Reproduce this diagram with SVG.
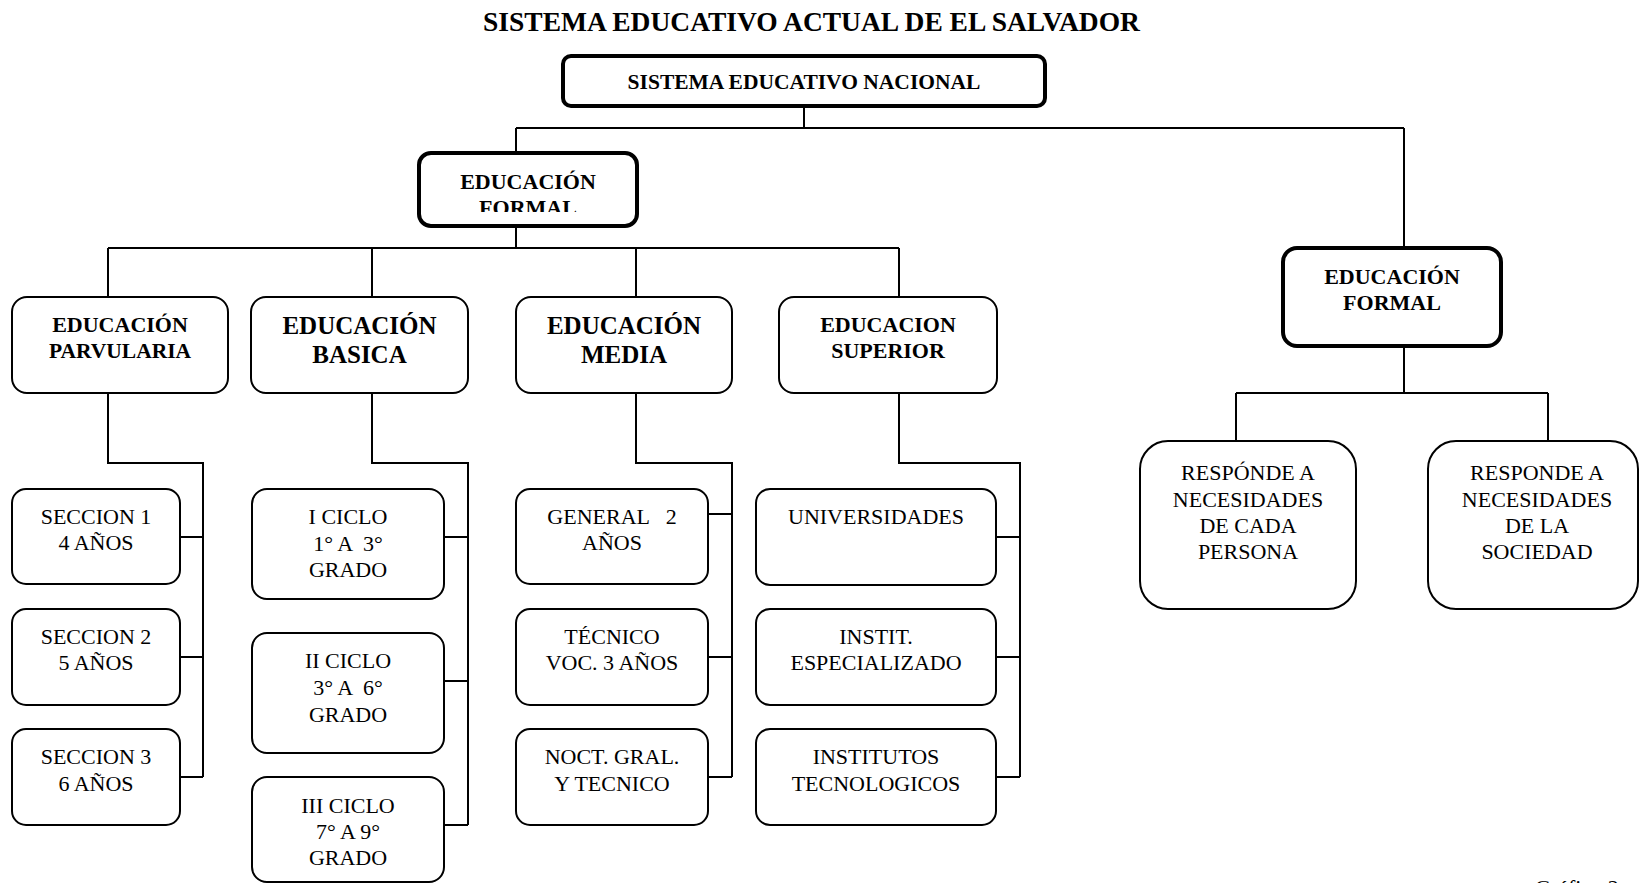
<svg xmlns="http://www.w3.org/2000/svg" width="1639" height="883" viewBox="0 0 1639 883">
<style>
text{font-family:"Liberation Serif","Times New Roman",serif;fill:#000;text-anchor:middle;white-space:pre}
.b{font-weight:bold}
.r{font-size:22px}
.thick{fill:#fff;stroke:#000;stroke-width:4}
.thin{fill:#fff;stroke:#000;stroke-width:2}
#connectors path{fill:none;stroke:#000;stroke-width:2}
</style>
<defs>
<clipPath id="clipEF1"><rect x="419" y="153" width="218" height="59"/></clipPath>
</defs>
<rect width="1639" height="883" fill="#fff"/>
<text x="811.5" y="31" class="b" style="font-size:27.5px">SISTEMA EDUCATIVO ACTUAL DE EL SALVADOR</text>

<g id="connectors">
<path d="M804 106V128M516 128H1404M516 128V153M1404 128V248"/>
<path d="M516 226V248M108 248H899M108 248V297M372 248V297M636 248V297M899 248V297"/>
<path d="M108 393V463H203V777M180 537H203M180 657H203M180 777H203"/>
<path d="M372 393V463H468V825M444 537H468M444 681H468M444 825H468"/>
<path d="M636 393V463H732V777M708 514H732M708 657H732M708 777H732"/>
<path d="M899 393V463H1020V777M996 537H1020M996 657H1020M996 777H1020"/>
<path d="M1404 346V393M1236 393H1548M1236 393V441M1548 393V441"/>
</g>

<g id="sen">
<rect class="thick" x="563" y="56" width="482" height="50" rx="8"/>
<text x="804" y="89" class="b" style="font-size:21.5px">SISTEMA EDUCATIVO NACIONAL</text>
</g>
<g id="ef1">
<rect class="thick" x="419" y="153" width="218" height="73" rx="12"/>
<text x="528" y="189" class="b" style="font-size:22px">EDUCACIÓN</text>
<text x="528" y="215" class="b" style="font-size:22px" clip-path="url(#clipEF1)">FORMAL</text>
</g>
<g id="ef2">
<rect class="thick" x="1283" y="248" width="218" height="98" rx="14"/>
<text x="1392" y="284" class="b" style="font-size:22px">EDUCACIÓN</text>
<text x="1392" y="310" class="b" style="font-size:22px">FORMAL</text>
</g>

<g id="parvularia">
<rect class="thin" x="12" y="297" width="216" height="96" rx="15"/>
<text x="120" y="332" class="b" style="font-size:22px">EDUCACIÓN</text>
<text x="120" y="358" class="b" style="font-size:21.5px">PARVULARIA</text>
</g>
<g id="basica">
<rect class="thin" x="251" y="297" width="217" height="96" rx="15"/>
<text x="359.5" y="334" class="b" style="font-size:25px">EDUCACIÓN</text>
<text x="359.5" y="363" class="b" style="font-size:25px">BASICA</text>
</g>
<g id="media">
<rect class="thin" x="516" y="297" width="216" height="96" rx="15"/>
<text x="624" y="334" class="b" style="font-size:25px">EDUCACIÓN</text>
<text x="624" y="363" class="b" style="font-size:25px">MEDIA</text>
</g>
<g id="superior">
<rect class="thin" x="779" y="297" width="218" height="96" rx="15"/>
<text x="888" y="332" class="b" style="font-size:22px">EDUCACION</text>
<text x="888" y="358" class="b" style="font-size:22px">SUPERIOR</text>
</g>

<g id="seccion1">
<rect class="thin" x="12" y="489" width="168" height="95" rx="14"/>
<text x="96" y="524" class="r">SECCION 1</text>
<text x="96" y="550" class="r">4 AÑOS</text>
</g>
<g id="seccion2">
<rect class="thin" x="12" y="609" width="168" height="96" rx="14"/>
<text x="96" y="644" class="r">SECCION 2</text>
<text x="96" y="670" class="r">5 AÑOS</text>
</g>
<g id="seccion3">
<rect class="thin" x="12" y="729" width="168" height="96" rx="14"/>
<text x="96" y="764" class="r">SECCION 3</text>
<text x="96" y="791" class="r">6 AÑOS</text>
</g>

<g id="ciclo1">
<rect class="thin" x="252" y="489" width="192" height="110" rx="15"/>
<text x="348" y="524" class="r">I CICLO</text>
<text x="348" y="551" class="r">1° A  3°</text>
<text x="348" y="577" class="r">GRADO</text>
</g>
<g id="ciclo2">
<rect class="thin" x="252" y="633" width="192" height="120" rx="15"/>
<text x="348" y="668" class="r">II CICLO</text>
<text x="348" y="695" class="r">3° A  6°</text>
<text x="348" y="722" class="r">GRADO</text>
</g>
<g id="ciclo3">
<rect class="thin" x="252" y="777" width="192" height="105" rx="15"/>
<text x="348" y="813" class="r">III CICLO</text>
<text x="348" y="839" class="r">7° A 9°</text>
<text x="348" y="865" class="r">GRADO</text>
</g>

<g id="general">
<rect class="thin" x="516" y="489" width="192" height="95" rx="14"/>
<text x="612" y="524" class="r">GENERAL   2</text>
<text x="612" y="550" class="r">AÑOS</text>
</g>
<g id="tecnico">
<rect class="thin" x="516" y="609" width="192" height="96" rx="14"/>
<text x="612" y="644" class="r">TÉCNICO</text>
<text x="612" y="670" class="r">VOC. 3 AÑOS</text>
</g>
<g id="nocturno">
<rect class="thin" x="516" y="729" width="192" height="96" rx="14"/>
<text x="612" y="764" class="r">NOCT. GRAL.</text>
<text x="612" y="791" class="r">Y TECNICO</text>
</g>

<g id="universidades">
<rect class="thin" x="756" y="489" width="240" height="96" rx="14"/>
<text x="876" y="524" class="r">UNIVERSIDADES</text>
</g>
<g id="instit">
<rect class="thin" x="756" y="609" width="240" height="96" rx="14"/>
<text x="876" y="644" class="r">INSTIT.</text>
<text x="876" y="670" class="r">ESPECIALIZADO</text>
</g>
<g id="institutos">
<rect class="thin" x="756" y="729" width="240" height="96" rx="14"/>
<text x="876" y="764" class="r">INSTITUTOS</text>
<text x="876" y="791" class="r">TECNOLOGICOS</text>
</g>

<g id="persona">
<rect class="thin" x="1140" y="441" width="216" height="168" rx="28"/>
<text x="1248" y="480" class="r">RESPÓNDE A</text>
<text x="1248" y="507" class="r">NECESIDADES</text>
<text x="1248" y="533" class="r">DE CADA</text>
<text x="1248" y="559" class="r">PERSONA</text>
</g>
<g id="sociedad">
<rect class="thin" x="1428" y="441" width="210" height="168" rx="28"/>
<text x="1537" y="480" class="r">RESPONDE A</text>
<text x="1537" y="507" class="r">NECESIDADES</text>
<text x="1537" y="533" class="r">DE LA</text>
<text x="1537" y="559" class="r">SOCIEDAD</text>
</g>

<text x="1535" y="895" class="r" style="text-anchor:start">Gráfico 2</text>
</svg>
